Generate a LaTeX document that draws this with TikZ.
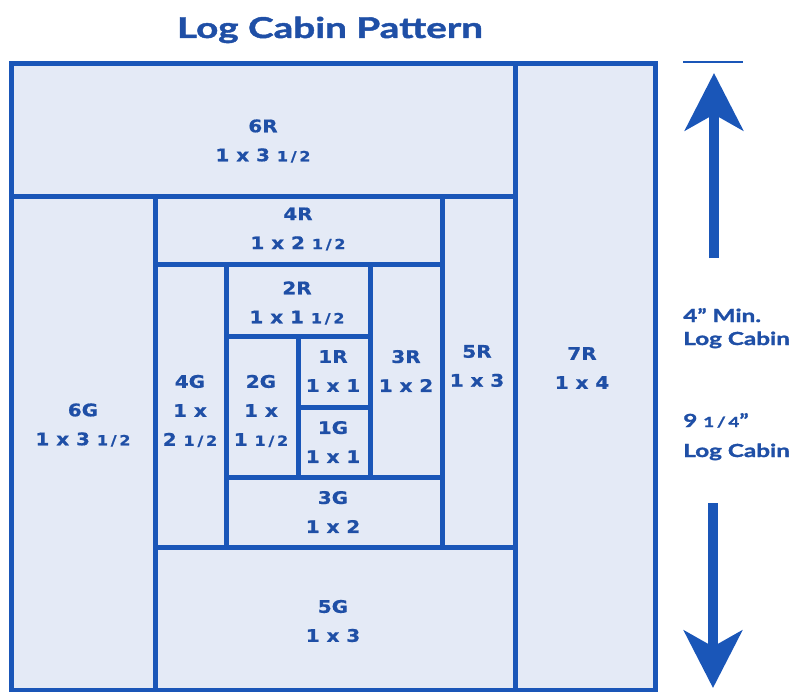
\documentclass[tikz,border=0pt]{standalone}
\usepackage{fontspec}
\usetikzlibrary{arrows.meta}
\newfontfamily\titlefont[FakeStretch=1.35, FakeBold=1.5]{Lato}
\newfontfamily\cellfont[FakeStretch=1.15, FakeBold=0.8]{DejaVu Sans}
\definecolor{cabinblue}{HTML}{1A56B8}
\definecolor{cabintext}{HTML}{1F4FA6}
\definecolor{cabinfill}{HTML}{E4EAF6}
\newcommand{\frc}[2]{{\fontsize{10.5}{10.5}\selectfont #1\kern2pt/\kern2pt#2}}

\begin{document}
\begin{tikzpicture}[
    x=0.75pt, y=-0.75pt,
    patch/.style={draw=cabinblue, fill=cabinfill, line width=3.75pt},
    piece/.style={text=cabintext, align=center, inner sep=0pt, font=\cellfont\bfseries\fontsize{13}{21.75}\selectfont},
    side/.style={text=cabintext, anchor=base west, inner sep=0pt, font=\titlefont\bfseries\fontsize{13.5}{16}\selectfont},
    arrow/.style={draw=cabinblue, line width=7.5pt, -{Stealth[length=43pt, width=43.5pt, inset=12pt]}}
]
\useasboundingbox (0,0) rectangle (796,692);

% Title
\node[text=cabintext, anchor=base, inner sep=0pt, font=\titlefont\bfseries\fontsize{21.5}{24}\selectfont] (title) at (330,38) {Log Cabin Pattern};

% Patches
\draw[patch] (11,64) rectangle (515,196);
\draw[patch] (515,64) rectangle (655,690);
\draw[patch] (11,196) rectangle (155,690);
\draw[patch] (155,547) rectangle (515,690);
\draw[patch] (442,196) rectangle (515,547);
\draw[patch] (155,196) rectangle (442,264);
\draw[patch] (155,264) rectangle (226,547);
\draw[patch] (226,477) rectangle (442,547);
\draw[patch] (370,264) rectangle (442,477);
\draw[patch] (226,264) rectangle (370,336);
\draw[patch] (226,336) rectangle (298,477);
\draw[patch] (298,336) rectangle (370,407);
\draw[patch] (298,407) rectangle (370,477);

% Nodes
\node[piece] (sixR) at (263,141) {6R\\1 x 3 \frc{1}{2}};
\node[piece] (sevenR) at (582,368) {7R\\1 x 4};
\node[piece] (sixG) at (83,425) {6G\\1 x 3 \frc{1}{2}};
\node[piece] (fiveG) at (333,621) {5G\\1 x 3};
\node[piece] (fiveR) at (477,366) {5R\\1 x 3};
\node[piece] (fourR) at (298,229) {4R\\1 x 2 \frc{1}{2}};
\node[piece] (fourG) at (190,411) {4G\\1 x\\2 \frc{1}{2}};
\node[piece] (threeG) at (333,512) {3G\\1 x 2};
\node[piece] (threeR) at (406,371) {3R\\1 x 2};
\node[piece] (twoR) at (297,303) {2R\\1 x 1 \frc{1}{2}};
\node[piece] (twoG) at (261,411) {2G\\1 x\\1 \frc{1}{2}};
\node[piece] (oneR) at (333,371) {1R\\1 x 1};
\node[piece] (oneG) at (333,442) {1G\\1 x 1};

\node[side] (minSize) at (683,322) {4” Min.};
\node[side] (minCabin) at (683,345) {Log Cabin};
\node[side] (fullSize) at (683,427) {9 \frc{1}{4}”};
\node[side] (fullCabin) at (683,457) {Log Cabin};

% Arrows
\coordinate (upStart) at (714,258);
\coordinate (upTip) at (714,73);
\coordinate (downStart) at (713,503);
\coordinate (downTip) at (713,688);
\coordinate (capLeft) at (683,62);
\coordinate (capRight) at (743,62);
\draw[arrow] (upStart) -- (upTip);
\draw[arrow] (downStart) -- (downTip);
\draw[cabinblue, line width=1.5pt] (capLeft) -- (capRight);

\end{tikzpicture}
\end{document}
